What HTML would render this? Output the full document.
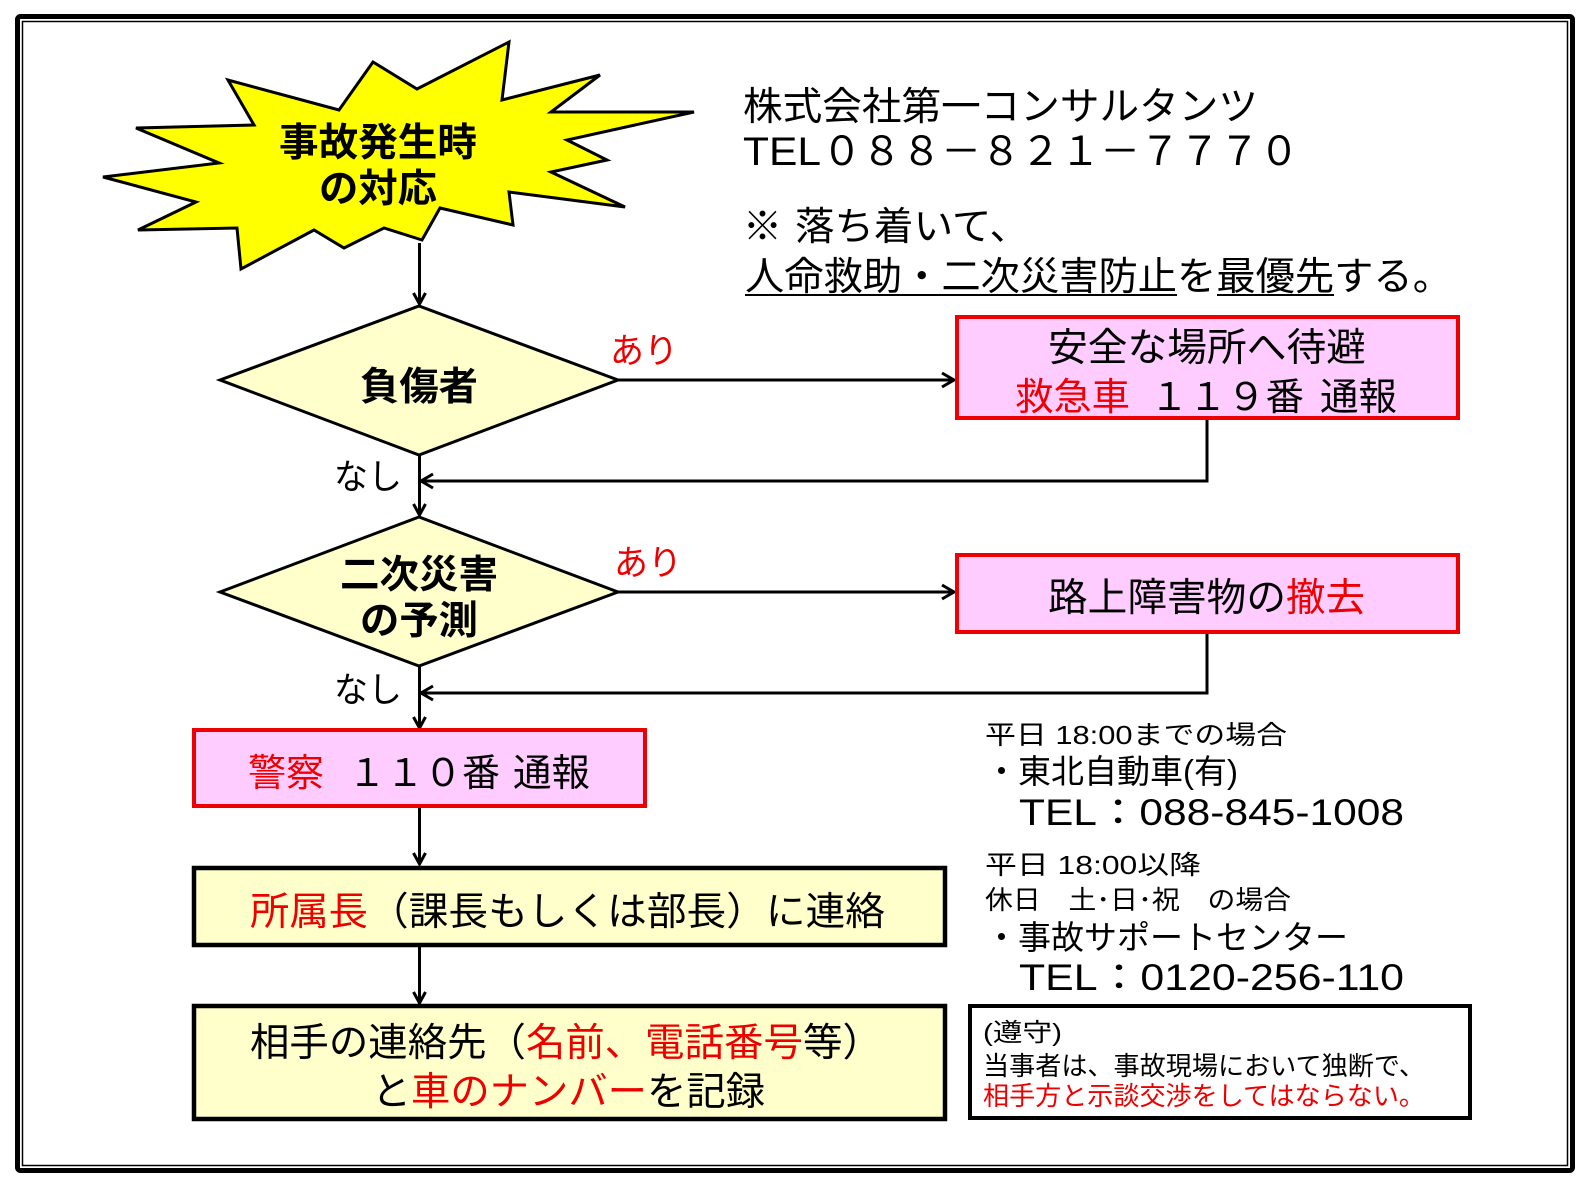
<!DOCTYPE html>
<html>
<head>
<meta charset="utf-8">
<style>
  html,body{margin:0;padding:0;background:#fff;}
  svg{display:block;}
  text{font-family:"Liberation Sans","Noto Sans CJK JP",sans-serif;fill:#000;}
  .b{font-weight:bold;}
  .r{fill:#ee0000;}
</style>
</head>
<body>
<svg width="1588" height="1186" viewBox="0 0 1588 1186" xmlns="http://www.w3.org/2000/svg">
  <!-- outer frame -->
  <rect x="0" y="0" width="1588" height="1186" fill="#fff"/>
  <rect x="17.5" y="16.5" width="1555" height="1154" rx="3" fill="#fff" stroke="#000" stroke-width="5"/>
  <rect x="22.5" y="21.5" width="1545" height="1144" fill="none" stroke="#000" stroke-width="1.5"/>

  <!-- starburst -->
  <polygon points="509,42 502,100 600,75 551,112 694,112 567,140 607,160 551,172 625,207 509,192 513,225 440,208 422,240 384,228 344,248 314,230 241,269 237,228 138,230 196,202 103,177 219,163 136,128 254,125 228,80 339,110 373,62 417,89"
    fill="#ffff00" stroke="#000" stroke-width="3" stroke-linejoin="miter"/>
  <text class="b" x="279" y="156" font-size="39" textLength="198" lengthAdjust="spacingAndGlyphs">事故発生時</text>
  <text class="b" x="319" y="202" font-size="39" textLength="118" lengthAdjust="spacingAndGlyphs">の対応</text>

  <!-- header text -->
  <text x="743" y="120" font-size="39" textLength="515" lengthAdjust="spacingAndGlyphs">株式会社第一コンサルタンツ</text>
  <text x="743" y="165" font-size="40" textLength="78" lengthAdjust="spacingAndGlyphs">TEL</text>
  <text x="822" y="165" font-size="40" textLength="477" lengthAdjust="spacingAndGlyphs">０８８－８２１－７７７０</text>
  <text x="743" y="240" font-size="39">※</text>
  <text x="795" y="240" font-size="39" textLength="234" lengthAdjust="spacingAndGlyphs">落ち着いて、</text>
  <text x="745" y="290" font-size="39" textLength="707" lengthAdjust="spacingAndGlyphs">人命救助・二次災害防止を最優先する。</text>
  <line x1="745" y1="295" x2="1177" y2="295" stroke="#000" stroke-width="2"/>
  <line x1="1217" y1="295" x2="1334" y2="295" stroke="#000" stroke-width="2"/>

  <!-- connectors -->
  <g fill="none" stroke="#000" stroke-width="3" stroke-linecap="butt" stroke-linejoin="miter">
    <line x1="419.5" y1="243" x2="419.5" y2="304"/>
    <polyline points="413.5,293 419.5,304 425.5,293"/>
    <line x1="618" y1="380" x2="954" y2="380"/>
    <polyline points="942,373 954,380 942,387"/>
    <polyline points="1207,420 1207,481 421,481"/>
    <polyline points="433,474 421,481 433,488"/>
    <line x1="419.5" y1="455" x2="419.5" y2="515"/>
    <polyline points="413.5,504 419.5,515 425.5,504"/>
    <line x1="618" y1="592" x2="954" y2="592"/>
    <polyline points="942,585 954,592 942,599"/>
    <polyline points="1207,634 1207,693 421,693"/>
    <polyline points="433,686 421,693 433,700"/>
    <line x1="419.5" y1="666" x2="419.5" y2="728"/>
    <polyline points="413.5,717 419.5,728 425.5,717"/>
    <line x1="419.5" y1="808" x2="419.5" y2="864"/>
    <polyline points="413.5,853 419.5,864 425.5,853"/>
    <line x1="419.5" y1="947" x2="419.5" y2="1003"/>
    <polyline points="413.5,992 419.5,1003 425.5,992"/>
  </g>

  <!-- diamonds -->
  <polygon points="220,380 419,306 618,380 419,455" fill="#ffffcc" stroke="#000" stroke-width="3"/>
  <text class="b" x="360" y="400" font-size="39" textLength="118" lengthAdjust="spacingAndGlyphs">負傷者</text>
  <polygon points="220,592 419,517 618,592 419,666" fill="#ffffcc" stroke="#000" stroke-width="3"/>
  <text class="b" x="340" y="588" font-size="39" textLength="158" lengthAdjust="spacingAndGlyphs">二次災害</text>
  <text class="b" x="360" y="634" font-size="39" textLength="118" lengthAdjust="spacingAndGlyphs">の予測</text>

  <!-- labels -->
  <text class="r" x="610" y="363" font-size="35" textLength="68" lengthAdjust="spacingAndGlyphs">あり</text>
  <text class="r" x="614" y="575" font-size="35" textLength="68" lengthAdjust="spacingAndGlyphs">あり</text>
  <text x="334" y="489" font-size="35" textLength="68" lengthAdjust="spacingAndGlyphs">なし</text>
  <text x="334" y="702" font-size="35" textLength="68" lengthAdjust="spacingAndGlyphs">なし</text>

  <!-- box1 -->
  <rect x="957" y="317" width="501" height="101" fill="#ffccff" stroke="#ee0000" stroke-width="4"/>
  <text x="1048" y="361" font-size="39" textLength="318" lengthAdjust="spacingAndGlyphs">安全な場所へ待避</text>
  <text class="r" x="1015" y="410" font-size="38" textLength="115" lengthAdjust="spacingAndGlyphs">救急車</text>
  <text x="1150" y="410" font-size="38" textLength="154" lengthAdjust="spacingAndGlyphs">１１９番</text>
  <text x="1320" y="410" font-size="38" textLength="77" lengthAdjust="spacingAndGlyphs">通報</text>

  <!-- box2 -->
  <rect x="957" y="555" width="501" height="77" fill="#ffccff" stroke="#ee0000" stroke-width="4"/>
  <text x="1048" y="611" font-size="39" textLength="238" lengthAdjust="spacingAndGlyphs">路上障害物の</text>
  <text class="r" x="1286" y="611" font-size="39" textLength="79" lengthAdjust="spacingAndGlyphs">撤去</text>

  <!-- police box -->
  <rect x="194" y="730" width="451" height="76" fill="#ffccff" stroke="#ee0000" stroke-width="4"/>
  <text class="r" x="248" y="786" font-size="38" textLength="76" lengthAdjust="spacingAndGlyphs">警察</text>
  <text x="348" y="786" font-size="38" textLength="152" lengthAdjust="spacingAndGlyphs">１１０番</text>
  <text x="513" y="786" font-size="38" textLength="77" lengthAdjust="spacingAndGlyphs">通報</text>

  <!-- boss box -->
  <rect x="194" y="868" width="751" height="77" fill="#ffffcc" stroke="#000" stroke-width="4.5"/>
  <text class="r" x="250" y="925" font-size="39" textLength="118" lengthAdjust="spacingAndGlyphs">所属長</text>
  <text x="369" y="925" font-size="39" textLength="516" lengthAdjust="spacingAndGlyphs">（課長もしくは部長）に連絡</text>

  <!-- record box -->
  <rect x="194" y="1006" width="751" height="113" fill="#ffffcc" stroke="#000" stroke-width="4.5"/>
  <text x="250" y="1056" font-size="39" textLength="276" lengthAdjust="spacingAndGlyphs">相手の連絡先（</text>
  <text class="r" x="526" y="1056" font-size="39" textLength="118" lengthAdjust="spacingAndGlyphs">名前、</text>
  <text class="r" x="645" y="1056" font-size="39" textLength="158" lengthAdjust="spacingAndGlyphs">電話番号</text>
  <text x="803" y="1056" font-size="39" textLength="79" lengthAdjust="spacingAndGlyphs">等）</text>
  <text x="372" y="1105" font-size="39" textLength="39" lengthAdjust="spacingAndGlyphs">と</text>
  <text class="r" x="411" y="1105" font-size="39" textLength="236" lengthAdjust="spacingAndGlyphs">車のナンバー</text>
  <text x="647" y="1105" font-size="39" textLength="118" lengthAdjust="spacingAndGlyphs">を記録</text>

  <!-- right info -->
  <text x="985" y="744" font-size="26" textLength="302" lengthAdjust="spacingAndGlyphs">平日 18:00までの場合</text>
  <text x="985" y="783" font-size="33" textLength="253" lengthAdjust="spacingAndGlyphs">・東北自動車(有)</text>
  <text x="1019" y="825" font-size="37" textLength="385" lengthAdjust="spacingAndGlyphs">TEL：088-845-1008</text>
  <text x="985" y="874" font-size="26" textLength="216" lengthAdjust="spacingAndGlyphs">平日 18:00以降</text>
  <text x="985" y="909" font-size="26" textLength="306" lengthAdjust="spacingAndGlyphs">休日　土･日･祝　の場合</text>
  <text x="985" y="949" font-size="33" textLength="363" lengthAdjust="spacingAndGlyphs">・事故サポートセンター</text>
  <text x="1019" y="990" font-size="37" textLength="385" lengthAdjust="spacingAndGlyphs">TEL：0120-256-110</text>

  <!-- compliance box -->
  <rect x="970" y="1006" width="500" height="112" fill="#fff" stroke="#000" stroke-width="4"/>
  <text x="983" y="1041" font-size="25" textLength="79" lengthAdjust="spacingAndGlyphs">(遵守)</text>
  <text x="983" y="1075" font-size="26" textLength="442" lengthAdjust="spacingAndGlyphs">当事者は、事故現場において独断で、</text>
  <text class="r" x="983" y="1105" font-size="26" textLength="442" lengthAdjust="spacingAndGlyphs">相手方と示談交渉をしてはならない。</text>
</svg>
</body>
</html>
